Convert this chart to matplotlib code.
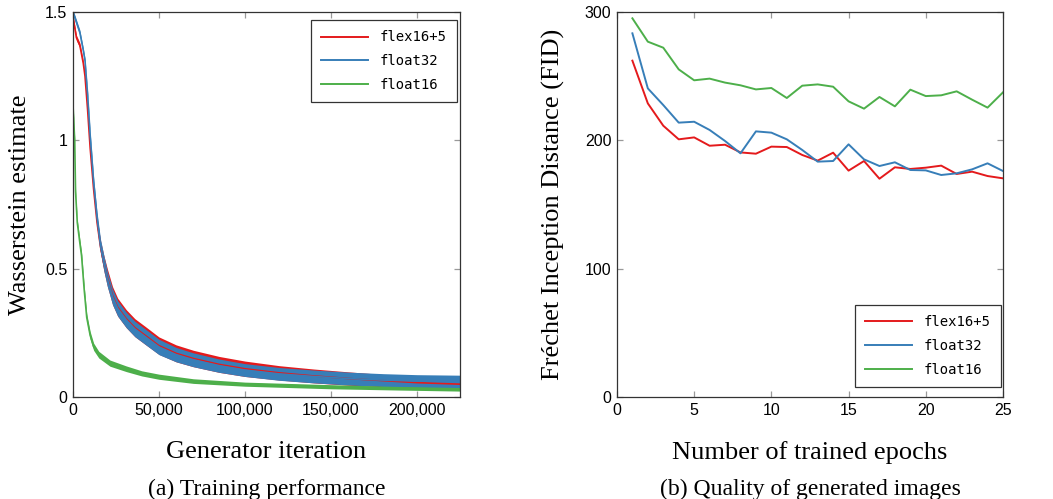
import matplotlib
matplotlib.use("Agg")
import matplotlib.pyplot as plt
from matplotlib.ticker import FuncFormatter
import numpy as np

# colours (ColorBrewer Set1)
RED, BLUE, GREEN = "#e41a1c", "#377eb8", "#4daf4a"
series_names = ["flex16+5", "float32", "float16"]

# ---- (a) training curves: centre line and spread of the noisy estimate ----
iters_main = [0, 2000, 4000, 6000, 7000, 8500, 10000, 12000, 14000, 16000,
              18000, 20000, 23000, 26000, 31000, 36000, 42000, 50000, 60000,
              70000, 85000, 100000, 120000, 140000, 160000, 180000, 200000,
              225000]
flex_mid = [1.48, 1.40, 1.37, 1.30, 1.25, 1.12, 0.97, 0.81, 0.68, 0.585,
            0.52, 0.465, 0.395, 0.35, 0.305, 0.27, 0.24, 0.2, 0.17, 0.15,
            0.127, 0.11, 0.094, 0.082, 0.072, 0.064, 0.056, 0.05]
flex_spread = [0.01, 0.01, 0.01, 0.01, 0.01, 0.01, 0.012, 0.015, 0.02, 0.025,
               0.03, 0.034, 0.035, 0.035, 0.035, 0.035, 0.035, 0.034, 0.033,
               0.032, 0.031, 0.03, 0.028, 0.027, 0.026, 0.024, 0.022, 0.02]
f32_mid = [1.50, 1.46, 1.42, 1.35, 1.31, 1.18, 1.02, 0.84, 0.70, 0.59,
           0.52, 0.46, 0.39, 0.345, 0.30, 0.265, 0.235, 0.195, 0.165, 0.145,
           0.122, 0.105, 0.09, 0.08, 0.072, 0.066, 0.062, 0.06]
f32_spread = [0.01, 0.01, 0.01, 0.01, 0.01, 0.01, 0.012, 0.015, 0.02, 0.025,
              0.03, 0.03, 0.03, 0.03, 0.03, 0.03, 0.03, 0.03, 0.028, 0.027,
              0.026, 0.025, 0.025, 0.025, 0.025, 0.025, 0.025, 0.025]

iters_f16 = [0, 1000, 1500, 2500, 4000, 5000, 6500, 8000, 10000, 12000,
             15000, 21500, 31000, 40000, 50000, 70000, 100000, 150000,
             190000, 225000]
f16_mid = [1.14, 1.00, 0.80, 0.68, 0.60, 0.55, 0.42, 0.31, 0.24, 0.196,
           0.165, 0.132, 0.11, 0.092, 0.079, 0.062, 0.05, 0.04, 0.034, 0.03]
f16_spread = [0.01, 0.01, 0.01, 0.012, 0.015, 0.015, 0.015, 0.015, 0.015,
              0.014, 0.013, 0.012, 0.011, 0.01, 0.01, 0.009, 0.008, 0.008,
              0.007, 0.007]

# ---- (b) FID per epoch ----
epochs = list(range(1, 26))
fid_flex = [262.1, 228.8, 211.4, 200.8, 202.3, 195.8, 196.6, 190.6, 189.6,
            195.1, 194.8, 188.6, 184.2, 190.4, 176.4, 183.9, 170.1, 179.0,
            177.7, 178.7, 180.3, 173.8, 175.6, 172.2, 170.4]
fid_f32 = [283.4, 240.5, 227.5, 213.8, 214.5, 208.1, 199.5, 189.9, 207.0,
           206.0, 200.8, 192.5, 183.4, 183.9, 196.9, 185.2, 180.0, 182.9,
           176.9, 176.6, 173.0, 174.3, 177.4, 182.1, 176.1]
fid_f16 = [295.1, 276.9, 272.2, 255.3, 246.8, 248.1, 245.0, 242.9, 239.7,
           240.8, 233.0, 242.6, 243.6, 241.8, 230.4, 224.7, 233.8, 226.5,
           239.5, 234.5, 235.1, 238.2, 231.7, 225.5, 237.4]

SERIF = ["Liberation Serif", "DejaVu Serif"]
SANS = ["Liberation Sans", "DejaVu Sans"]
MONO = ["DejaVu Sans Mono"]

plt.rcParams["font.family"] = SANS
plt.rcParams["font.size"] = 11.5

fig = plt.figure(figsize=(10.53, 4.99), dpi=100)
ax1 = fig.add_axes([0.0693, 0.2044, 0.3675, 0.7715])
ax2 = fig.add_axes([0.5859, 0.2044, 0.3666, 0.7715])


def style_axes(ax):
    for side in ax.spines.values():
        side.set_color("#333333")
        side.set_linewidth(0.9)
    ax.tick_params(direction="in", top=True, right=True, length=4.5,
                   width=0.9, color="#999999", labelsize=11.5, pad=4)


def band(ax, x, mid, spread, color):
    mid = np.array(mid)
    spread = np.array(spread)
    ax.fill_between(x, mid - spread, mid + spread, color=color, lw=0)
    ax.plot(x, mid, color=color, lw=1.2)


def add_legend(ax, loc, anchor):
    handles = [plt.Line2D([], [], color=c, lw=1.4) for c in (RED, BLUE, GREEN)]
    leg = ax.legend(handles, series_names, loc=loc, bbox_to_anchor=anchor,
                    prop={"family": MONO, "size": 10}, frameon=True,
                    fancybox=False, edgecolor="black", handlelength=3.4,
                    borderpad=0.75, labelspacing=0.7, borderaxespad=0)
    leg.get_frame().set_linewidth(0.9)


band(ax1, iters_main, flex_mid, flex_spread, RED)
band(ax1, iters_main, f32_mid, f32_spread, BLUE)
band(ax1, iters_f16, f16_mid, f16_spread, GREEN)
ax1.set_xlim(0, 225000)
ax1.set_ylim(0, 1.5)
ax1.set_xticks([0, 50000, 100000, 150000, 200000])
ax1.xaxis.set_major_formatter(FuncFormatter(lambda v, p: f"{int(v):,}"))
ax1.set_yticks([0, 0.5, 1, 1.5])
ax1.yaxis.set_major_formatter(FuncFormatter(lambda v, p: f"{v:g}"))
ax1.set_xlabel("Generator iteration", family=SERIF, fontsize=19,
               labelpad=17)
ax1.set_ylabel("Wasserstein estimate", family=SERIF, fontsize=19,
               labelpad=10)
style_axes(ax1)
add_legend(ax1, "upper right", (1 - 3 / 387, 1 - 8 / 385))

ax2.plot(epochs, fid_flex, color=RED, lw=1.4)
ax2.plot(epochs, fid_f32, color=BLUE, lw=1.4)
ax2.plot(epochs, fid_f16, color=GREEN, lw=1.4)
ax2.set_xlim(0, 25)
ax2.set_ylim(0, 300)
ax2.set_xticks([0, 5, 10, 15, 20, 25])
ax2.set_yticks([0, 100, 200, 300])
ax2.set_xlabel("Number of trained epochs", family=SERIF, fontsize=19,
               labelpad=17)
ax2.set_ylabel("Fréchet Inception Distance (FID)", family=SERIF,
               fontsize=19, labelpad=14)
style_axes(ax2)
add_legend(ax2, "lower right", (1 - 2 / 386, 10 / 385))

fig.text(0.2530, 0.008, "(a) Training performance", family=SERIF,
         fontsize=17, ha="center", va="baseline")
fig.text(0.7692, 0.008, "(b) Quality of generated images", family=SERIF,
         fontsize=17, ha="center", va="baseline")

fig.savefig("out.png", dpi=100)
